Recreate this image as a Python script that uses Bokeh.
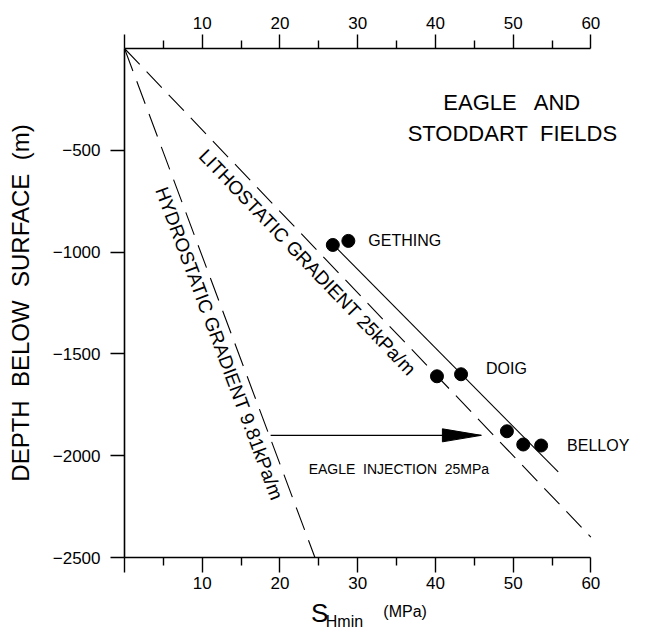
from bokeh.plotting import figure
from bokeh.layouts import column
from bokeh.models import Range1d, LinearAxis, FixedTicker, ColumnDataSource
from bokeh.core.properties import value
from bokeh.embed import file_html
from bokeh.resources import INLINE

# ---------------- data ----------------
x_ticks = [0, 10, 20, 30, 40, 50, 60]
x_tick_labels = ["", "10", "20", "30", "40", "50", "60"]
x_minor_ticks = [5, 15, 25, 35, 45, 55]
y_ticks = [-2500, -2000, -1500, -1000, -500]
y_tick_labels = ["\u22122500", "\u22122000", "\u22121500", "\u22121000", "\u2212500"]

hydro_x = [0, 24.5]
hydro_y = [0, -2500]
litho_x = [0, 60]
litho_y = [0, -2400]
trend_x = [26.5, 55.8]
trend_y = [-950, -2080]

field_names = ["GETHING", "DOIG", "BELLOY"]
gething_x = [26.8, 28.8]
gething_y = [-965, -945]
doig_x = [40.2, 43.3]
doig_y = [-1610, -1600]
belloy_x = [49.2, 51.3, 53.6]
belloy_y = [-1880, -1945, -1950]

injection_x = [18.8, 45.9]
injection_y = -1900
injection_label = "EAGLE\u00a0 INJECTION\u00a0 25MPa"

title_lines = ["EAGLE\u00a0\u00a0 AND", "STODDART\u00a0 FIELDS"]
litho_label = "LITHOSTATIC GRADIENT 25kPa/m"
hydro_label = "HYDROSTATIC GRADIENT 9.81kPa/m"
y_title = "DEPTH\u00a0 BELOW\u00a0 SURFACE\u00a0 (m)"
x_title_parts = ["S", "Hmin", "(MPa)"]

FONT = "Liberation Sans"
W = 646

p = figure(width=W, height=597, x_range=Range1d(0, 66), y_range=Range1d(-2500, 0),
           output_backend="svg", toolbar_location=None, title=None,
           x_axis_location=None, y_axis_location=None,
           min_border_left=124, min_border_right=9, min_border_top=48, min_border_bottom=40)
p.grid.visible = False
p.outline_line_color = None


def style_axis(ax, tick_len, minor_len, standoff, size="17px"):
    ax.axis_line_color = "black"
    ax.axis_line_width = 1.6
    ax.major_tick_line_color = "black"
    ax.major_tick_line_width = 1.4
    ax.minor_tick_line_color = "black"
    ax.minor_tick_line_width = 1.4
    ax.major_tick_in = 0
    ax.major_tick_out = tick_len
    ax.minor_tick_in = 0
    ax.minor_tick_out = minor_len
    ax.major_label_standoff = standoff
    ax.major_label_text_font = FONT
    ax.major_label_text_font_size = size
    ax.major_label_text_color = "black"


xb = LinearAxis(ticker=FixedTicker(ticks=x_ticks, minor_ticks=x_minor_ticks),
                major_label_overrides=dict(zip(x_ticks, x_tick_labels)), bounds=(0, 60))
style_axis(xb, 15, 8, 4)
p.add_layout(xb, "below")

xt = LinearAxis(ticker=FixedTicker(ticks=x_ticks, minor_ticks=x_minor_ticks),
                major_label_overrides=dict(zip(x_ticks, x_tick_labels)), bounds=(0, 60))
style_axis(xt, 14, 8, 6)
p.add_layout(xt, "above")

yl = LinearAxis(ticker=FixedTicker(ticks=y_ticks, minor_ticks=[]),
                major_label_overrides=dict(zip(y_ticks, y_tick_labels)),
                axis_label=y_title)
style_axis(yl, 14, 0, 10)
yl.axis_label_text_font = FONT
yl.axis_label_text_font_size = "24px"
yl.axis_label_text_font_style = "normal"
yl.axis_label_text_color = "black"
yl.axis_label_standoff = 16
p.add_layout(yl, "left")

# gradient lines and trend
p.line(hydro_x, hydro_y, line_color="black", line_width=1.1, line_dash="24 11")
p.line(litho_x, litho_y, line_color="black", line_width=1.1, line_dash="22 10")
p.line(trend_x, trend_y, line_color="black", line_width=1.1)

# measured points
for xs, ys in [(gething_x, gething_y), (doig_x, doig_y), (belloy_x, belloy_y)]:
    p.scatter(xs, ys, size=13, fill_color="black", line_color="black")

# field labels
lab_src = ColumnDataSource(dict(
    x=[gething_x[-1], doig_x[-1], belloy_x[-1]],
    y=[gething_y[-1], doig_y[-1], belloy_y[-1]],
    text=field_names,
    xo=[20, 25, 26],
    yo=[0, -6, 0],
))
p.text("x", "y", text="text", x_offset="xo", y_offset="yo", source=lab_src,
       text_font=value(FONT), text_font_size="16px", text_align="left",
       text_baseline="middle", text_color="black")

# gradient labels
p.text(x=[23.55], y=[-1051], text=[litho_label], angle=-0.808,
       text_font=value(FONT), text_font_size="19px", text_align="center",
       text_baseline="middle", text_color="black")
p.text(x=[12.2], y=[-1449], text=[hydro_label], angle=-1.213,
       text_font=value(FONT), text_font_size="19px", text_align="center",
       text_baseline="middle", text_color="black")

# injection arrow
head_len = 5.0
head_half = 32
p.line(injection_x, [injection_y, injection_y], line_color="black", line_width=1.1)
p.patch([injection_x[1] - head_len, injection_x[1], injection_x[1] - head_len],
        [injection_y + head_half, injection_y, injection_y - head_half],
        fill_color="black", line_color="black", line_width=1)
p.text(x=[35.3], y=[-2065], text=[injection_label], text_font=value(FONT),
       text_font_size="14px", text_align="center", text_baseline="middle", text_color="black")

# title
p.text(x=[49.9, 49.9], y=[-265, -418], text=title_lines, text_font=value(FONT),
       text_font_size="22px", text_align="center", text_baseline="middle", text_color="black")

# x axis title in a thin strip below, sharing the x scale
p2 = figure(width=W, height=33, x_range=p.x_range, y_range=Range1d(0, 33),
            output_backend="svg", toolbar_location=None, title=None,
            x_axis_location=None, y_axis_location=None,
            min_border_left=124, min_border_right=9, min_border_top=0, min_border_bottom=0)
p2.grid.visible = False
p2.outline_line_color = None
p2.text(x=[24.0], y=[18], text=[x_title_parts[0]], text_font=value(FONT), text_font_size="26px",
        text_align="left", text_baseline="middle", text_color="black")
p2.text(x=[25.9], y=[9], text=[x_title_parts[1]], text_font=value(FONT), text_font_size="16px",
        text_align="left", text_baseline="middle", text_color="black")
p2.text(x=[33.3], y=[19], text=[x_title_parts[2]], text_font=value(FONT), text_font_size="16px",
        text_align="left", text_baseline="middle", text_color="black")

layout = column(p, p2, spacing=0)
open("out.html", "w").write(file_html(layout, INLINE))
